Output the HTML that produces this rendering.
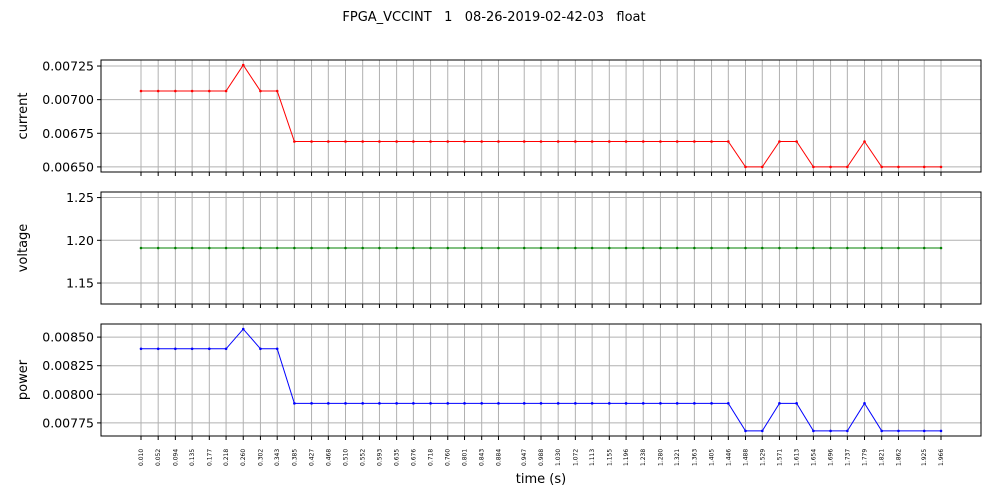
<!DOCTYPE html>
<html><head><meta charset="utf-8"><style>
body{margin:0;background:#fff}
svg{display:block;font-family:"DejaVu Sans","Liberation Sans",sans-serif}
</style></head><body>
<svg id="chart" width="1000" height="500"></svg>
<script>
const times=[0.010,0.052,0.094,0.135,0.177,0.218,0.260,0.302,0.343,0.385,0.427,0.468,0.510,0.552,0.593,0.635,0.676,0.718,0.760,0.801,0.843,0.884,0.947,0.988,1.030,1.072,1.113,1.155,1.196,1.238,1.280,1.321,1.363,1.405,1.446,1.488,1.529,1.571,1.613,1.654,1.696,1.737,1.779,1.821,1.862,1.925,1.966];
const current=[0.007064,0.007064,0.007064,0.007064,0.007064,0.007064,0.007257,0.007064,0.007064,0.006689,0.006689,0.006689,0.006689,0.006689,0.006689,0.006689,0.006689,0.006689,0.006689,0.006689,0.006689,0.006689,0.006689,0.006689,0.006689,0.006689,0.006689,0.006689,0.006689,0.006689,0.006689,0.006689,0.006689,0.006689,0.006689,0.0065,0.0065,0.006689,0.006689,0.0065,0.0065,0.0065,0.006689,0.0065,0.0065,0.0065,0.0065];
const voltage=times.map(()=>1.191);
const power=[0.008398,0.008398,0.008398,0.008398,0.008398,0.008398,0.00857,0.008398,0.008398,0.007921,0.007921,0.007921,0.007921,0.007921,0.007921,0.007921,0.007921,0.007921,0.007921,0.007921,0.007921,0.007921,0.007921,0.007921,0.007921,0.007921,0.007921,0.007921,0.007921,0.007921,0.007921,0.007921,0.007921,0.007921,0.007921,0.00768,0.00768,0.007921,0.007921,0.00768,0.00768,0.00768,0.007921,0.00768,0.00768,0.00768,0.00768];
const currentTicks=[0.0065,0.00675,0.007,0.00725];
const voltageTicks=[1.15,1.20,1.25];
const powerTicks=[0.00775,0.008,0.00825,0.0085];

const NS="http://www.w3.org/2000/svg";
const svg=document.getElementById('chart');
function el(t,a,p){const e=document.createElementNS(NS,t);for(const k in a)e.setAttribute(k,a[k]);(p||svg).appendChild(e);return e;}
const L=101,R=981;
const xmin=Math.min(...times),xmax=Math.max(...times),xm=(xmax-xmin)*0.05;
const X=v=>L+(v-xmin+xm)/(xmax-xmin+2*xm)*(R-L);

const t=el('text',{x:494,y:21,'font-size':13,'text-anchor':'middle',style:'white-space:pre'});
t.textContent='FPGA_VCCINT   1   08-26-2019-02-42-03   float';



function panel(name,data,ticks,color,top,bot,fmt){
  let lo=Math.min(...data),hi=Math.max(...data);
  if(hi-lo<1e-12){lo=lo*0.95;hi=hi*1.05;}
  const m=(hi-lo)*0.05;lo-=m;hi+=m;
  const Y=v=>bot-(v-lo)/(hi-lo)*(bot-top);
  const g=el('g',{});
  
  
  times.forEach(v=>el('line',{x1:X(v),x2:X(v),y1:top,y2:bot,stroke:'#b0b0b0','stroke-width':1},g));
  ticks.forEach(v=>{const y=Y(v);
    el('line',{x1:L,x2:R,y1:y,y2:y,stroke:'#b0b0b0','stroke-width':1},g);
    el('line',{x1:L-4,x2:L,y1:y,y2:y,stroke:'#000'},g);
    const tx=el('text',{x:L-7,y:y+4.5,'font-size':12.5,'text-anchor':'end'},g);tx.textContent=fmt(v);
    
    });
  times.forEach(v=>el('line',{x1:X(v),x2:X(v),y1:bot,y2:bot+4,stroke:'#000'},g));
  const pts=data.map((v,i)=>X(times[i])+','+Y(v)).join(' ');
  const pl=el('polyline',{points:pts,fill:'none',stroke:color,'stroke-width':1},g);
  
  
  data.forEach((v,i)=>{const c=el('circle',{cx:X(times[i]),cy:Y(v),r:1.3,fill:color},g);
    
    });
  el('rect',{x:L,y:top,width:R-L,height:bot-top,fill:'none',stroke:'#000','stroke-width':1},g);
  const yl=el('text',{transform:`translate(27,${(top+bot)/2}) rotate(-90)`,'font-size':13,'text-anchor':'middle'},g);
  yl.textContent=name;
  
  
}
panel('current',current,currentTicks,'red',60,172,v=>v.toFixed(5));
panel('voltage',voltage,voltageTicks,'green',192,304,v=>v.toFixed(2));
panel('power',power,powerTicks,'blue',324,436,v=>v.toFixed(5));

times.forEach(v=>{const tx=el('text',{transform:`translate(${X(v)+2},466) rotate(-90)`,'font-size':6});
  tx.textContent=v.toFixed(3);
  
  });
const xl=el('text',{x:541,y:483,'font-size':13,'text-anchor':'middle'});
xl.textContent='time (s)';


</script>
</body></html>
